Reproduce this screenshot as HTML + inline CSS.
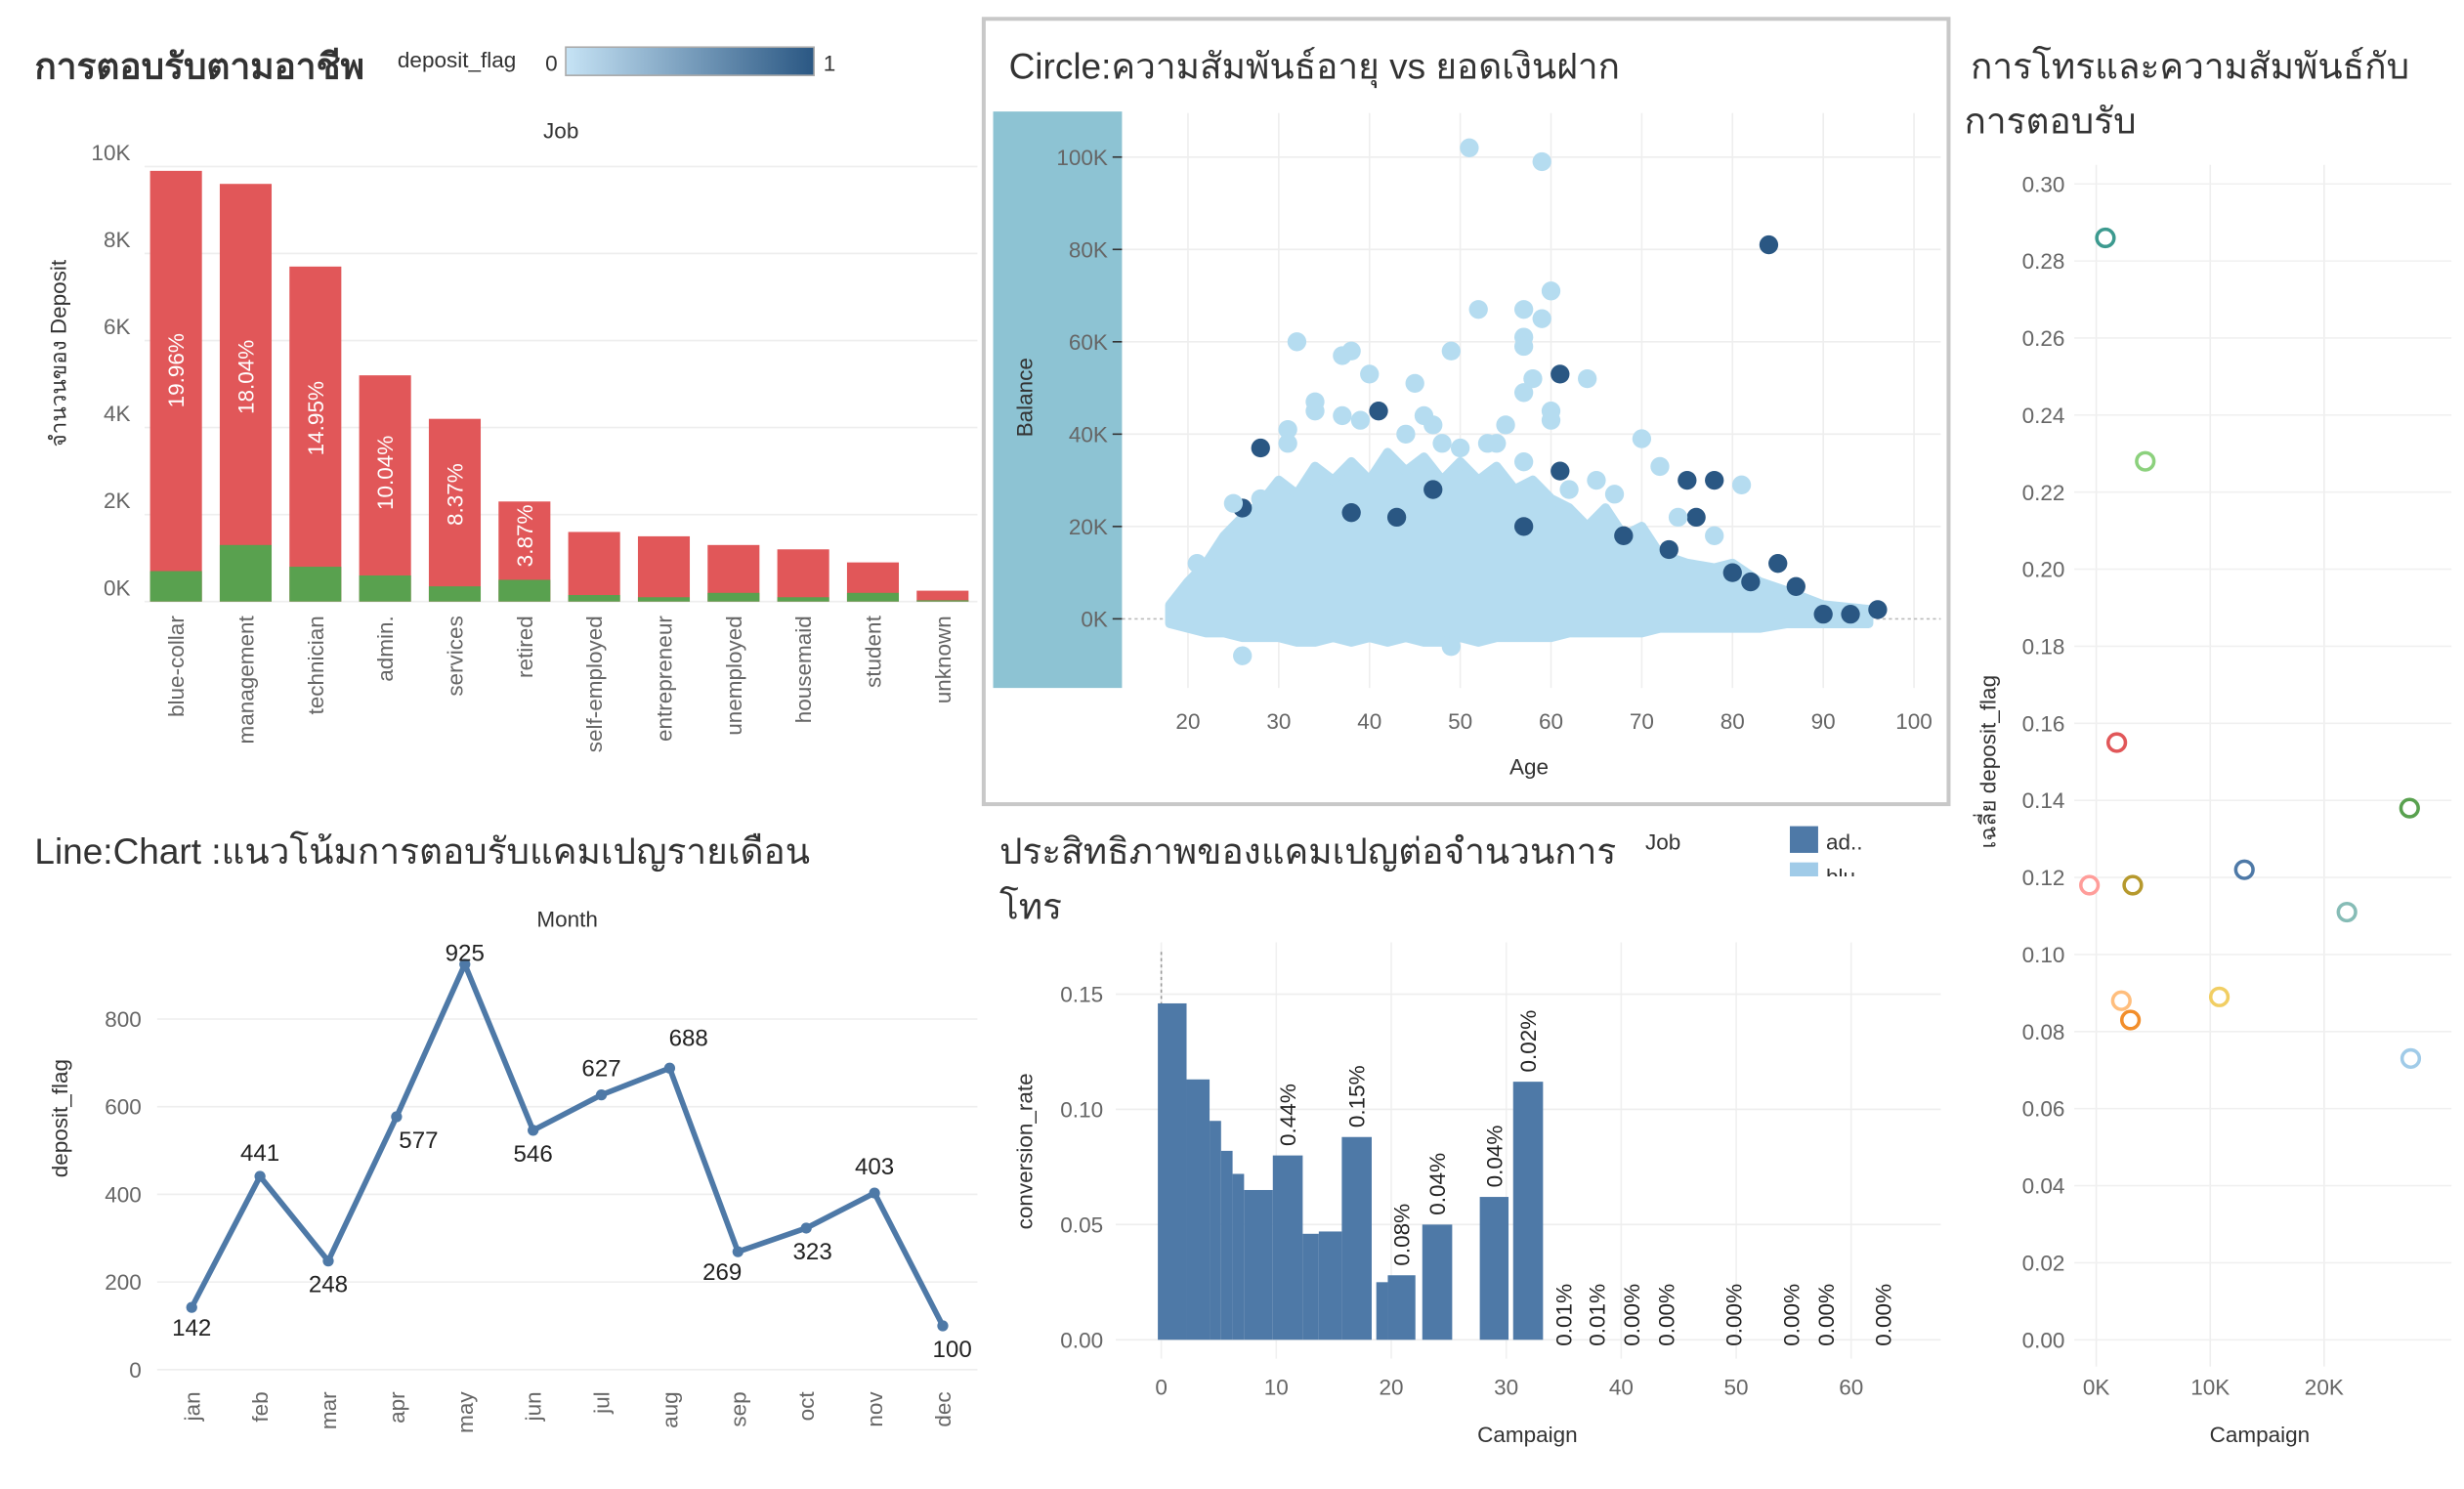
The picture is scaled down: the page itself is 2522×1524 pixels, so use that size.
<!DOCTYPE html>
<html><head><meta charset="utf-8">
<style>
html,body{margin:0;padding:0;background:#fff;}
svg{display:block;font-family:"Liberation Sans","Noto Sans CJK SC",sans-serif;}
.t{fill:#333;}
.tk{fill:#666;font-size:14px;}
</style></head>
<body>
<svg id="s" width="2522" height="1524" viewBox="0 0 1568 948" preserveAspectRatio="none">
<defs><linearGradient id="g" x1="0" x2="1"><stop offset="0" stop-color="#c6e3f5"/><stop offset="1" stop-color="#2a5783"/></linearGradient></defs>
<g>
<text x="22" y="50" font-size="23" font-weight="bold" class="t">การตอบรับตามอาชีพ</text>
<text x="253" y="43" font-size="14" class="t">deposit_flag</text>
<text x="347" y="45" font-size="14" class="t">0</text>
<rect x="360" y="30" width="158" height="18" fill="url(#g)" stroke="#aaa"/>
<text x="524" y="45" font-size="14" class="t">1</text>
<text x="357" y="88" font-size="14" text-anchor="middle" class="t">Job</text>
<text transform="translate(42,225) rotate(-90)" font-size="14" text-anchor="middle" class="t">จำนวนของ Deposit</text>
<g id="p1"></g>
</g>
<rect x="626" y="12" width="614" height="500" fill="none" stroke="#c8c8c8" stroke-width="2.5"/>
<g>
<text x="642" y="50" font-size="23" class="t">Circle:ความสัมพันธ์อายุ vs ยอดเงินฝาก</text>
<rect x="632" y="71" width="82" height="367" fill="#8dc3d3"/>
<text transform="translate(657,253) rotate(-90)" font-size="14" text-anchor="middle" class="t">Balance</text>
<text x="973" y="493" font-size="14" text-anchor="middle" class="t">Age</text>
<g id="p2"></g>
</g>
<g>
<text x="1254" y="50" font-size="23" class="t">การโทรและความสัมพันธ์กับ</text>
<text x="1250" y="85" font-size="23" class="t">การตอบรับ</text>
<text transform="translate(1270,485) rotate(-90)" font-size="14" text-anchor="middle" class="t">เฉลี่ย deposit_flag</text>
<text x="1438" y="918" font-size="14" text-anchor="middle" class="t">Campaign</text>
<g id="p3"></g>
</g>
<g>
<text x="22" y="550" font-size="23" class="t">Line:Chart :แนวโน้มการตอบรับแคมเปญรายเดือน</text>
<text x="361" y="590" font-size="14" text-anchor="middle" class="t">Month</text>
<text transform="translate(43,712) rotate(-90)" font-size="14" text-anchor="middle" class="t">deposit_flag</text>
<g id="p4"></g>
</g>
<g>
<text x="636" y="550" font-size="23" class="t">ประสิทธิภาพของแคมเปญต่อจำนวนการ</text>
<text x="636" y="585" font-size="23" class="t">โทร</text>
<text x="1047" y="541" font-size="14" class="t">Job</text>
<rect x="1139" y="526" width="18" height="17" fill="#4e79a7"/>
<text x="1162" y="541" font-size="14" class="t">ad..</text>
<svg x="1130" y="549" width="100" height="9"><rect x="9" y="0" width="18" height="17" fill="#a0cbe8"/><text x="32" y="14" font-size="14" class="t">blu..</text></svg>
<text transform="translate(657,733) rotate(-90)" font-size="14" text-anchor="middle" class="t">conversion_rate</text>
<text x="972" y="918" font-size="14" text-anchor="middle" class="t">Campaign</text>
<g id="p5"></g>
</g>
</svg>
<script>
const jobs=["blue-collar","management","technician","admin.","services","retired","self-employed","entrepreneur","unemployed","housemaid","student","unknown"];
const jobTotal=[9.9,9.6,7.7,5.2,4.2,2.3,1.6,1.5,1.3,1.2,0.9,0.25];
const jobYes=[0.7,1.3,0.8,0.6,0.35,0.5,0.15,0.1,0.2,0.1,0.2,0.03];
const jobPct=["19.96%","18.04%","14.95%","10.04%","8.37%","3.87%","","","","","",""];
const p1Ticks=[0,2,4,6,8,10];
const ageTicks=[20,30,40,50,60,70,80,90,100];
const balTicks=[0,20,40,60,80,100];
const envAge=[18,20,22,24,26,28,30,32,34,36,38,40,42,44,46,48,50,52,54,56,58,60,62,64,66,68,70,72,75,78,80,83,86,90,95];
const envTop=[3,8,12,18,22,25,30,27,33,30,34,30,36,32,35,30,34,30,33,28,30,26,24,20,24,18,20,14,12,11,12,8,6,3,2];
const envBot=[-1,-2,-3,-3,-4,-4,-4,-5,-5,-4,-5,-4,-5,-4,-5,-5,-4,-5,-4,-4,-4,-4,-3,-3,-3,-3,-3,-2,-2,-2,-2,-2,-1,-1,-1];
const lightAge=[51,59,60,52,57,59,57,32,49,38,37,57,40,58,64,57,34,34,45,37,46,47,55,60,60,31,31,39,48,50,54,57,70,72,65,81,26,49,25,28,44,53,62,67,74,78,22,21];
const lightBal=[102,99,71,67,67,65,61,60,58,58,57,59,53,52,52,49,47,45,51,44,44,42,42,45,43,41,38,43,38,37,38,34,39,33,30,29,-8,-6,25,26,40,38,28,27,22,18,10,12];
const darkAge=[84,61,41,28,61,26,75,78,76,85,87,80,82,90,93,96,43,38,47,73,68,57];
const darkBal=[81,53,45,37,32,24,30,30,22,12,7,10,8,1,1,2,22,23,28,15,18,20];
const campK=[0.8,4.3,1.8,27.5,13,-0.6,3.2,22,2.2,3,10.8,27.6];
const campAvg=[0.286,0.228,0.155,0.138,0.122,0.118,0.118,0.111,0.088,0.083,0.089,0.073];
const campColor=["#3c9a8f","#8cd17d","#e15759","#59a14f","#4e79a7","#ff9d9a","#b6992d","#86bcb6","#ffbe7d","#f28e2b","#f1ce63","#a0cbe8"];
const p3Ticks=[0,0.02,0.04,0.06,0.08,0.10,0.12,0.14,0.16,0.18,0.20,0.22,0.24,0.26,0.28,0.30];
const p3XTicks=[0,10,20];
const months=["jan","feb","mar","apr","may","jun","jul","aug","sep","oct","nov","dec"];
const monthVal=[142,441,248,577,925,546,627,688,269,323,403,100];
const p4Ticks=[0,200,400,600,800];
const binStart=[-0.3,2.2,4.2,5.2,6.2,7.2,9.7,12.3,13.7,15.7,18.7,19.7,22.7,27.7,30.6];
const binEnd=[2.2,4.2,5.2,6.2,7.2,9.7,12.3,13.7,15.7,18.3,19.7,22.1,25.3,30.2,33.2];
const binRate=[0.146,0.113,0.095,0.082,0.072,0.065,0.080,0.046,0.047,0.088,0.025,0.028,0.050,0.062,0.112];
const binLabel=["","","","","","","0.44%","","","0.15%","","0.08%","0.04%","0.04%","0.02%"];
const tailCamp=[35,37.9,40.9,43.9,49.8,54.8,57.8,62.8];
const tailLabel=["0.01%","0.01%","0.00%","0.00%","0.00%","0.00%","0.00%","0.00%"];
const p5Ticks=[0,0.05,0.10,0.15];
const p5XTicks=[0,10,20,30,40,50,60];

const NS="http://www.w3.org/2000/svg";
function mk(parent,tag,attrs,txt){const e=document.createElementNS(NS,tag);for(const k in attrs)e.setAttribute(k,attrs[k]);if(txt!==undefined)e.textContent=txt;parent.appendChild(e);return e;}

(function(){const g=document.getElementById('p1');
const y=v=>383-v*27.7, x=i=>112+i*44.35;
p1Ticks.forEach(t=>{let l=mk(g,'line',{x1:92,x2:622,y1:y(t),y2:y(t),stroke:'#eee'});

let tx=mk(g,'text',{x:83,y:y(t)-4,'text-anchor':'end',class:'tk'},t+'K');
});
jobs.forEach((j,i)=>{let r=mk(g,'rect',{x:x(i)-16.5,y:y(jobTotal[i]),width:33,height:y(0)-y(jobTotal[i]),fill:'#e15759'});

let r2=mk(g,'rect',{x:x(i)-16.5,y:y(jobYes[i]),width:33,height:y(0)-y(jobYes[i]),fill:'#59a14f'});

if(jobPct[i]){let my=(y(jobTotal[i])+y(0))/2-10;
let p=mk(g,'text',{transform:`translate(${x(i)+5},${my}) rotate(-90)`,'text-anchor':'middle','font-size':14,fill:'#fff'},jobPct[i]);
}
let l=mk(g,'text',{transform:`translate(${x(i)+5},392) rotate(-90)`,'text-anchor':'end',class:'tk'},j);
});
})();

(function(){const g=document.getElementById('p2');
const x=a=>756+(a-20)*5.775, y=b=>394-b*2.94;
ageTicks.forEach(t=>{let l=mk(g,'line',{x1:x(t),x2:x(t),y1:72,y2:438,stroke:'#eee'});

let tx=mk(g,'text',{x:x(t),y:464,'text-anchor':'middle',class:'tk'},t);
});
balTicks.forEach(t=>{let l=mk(g,'line',{x1:714,x2:1235,y1:y(t),y2:y(t),stroke:t?'#eee':'#bbb','stroke-dasharray':t?'':'2,2'});

mk(g,'line',{x1:708,x2:714,y1:y(t),y2:y(t),stroke:'#333'});
let tx=mk(g,'text',{x:705,y:y(t)+5,'text-anchor':'end',class:'tk',fill:'#333'},t+'K');
});
let pts=envAge.map((a,i)=>x(a)+','+y(envTop[i])).concat(envAge.slice().reverse().map((a,i)=>x(a)+','+y(envBot[envAge.length-1-i])));
let pg=mk(g,'polygon',{points:pts.join(' '),fill:'#b5dcf0',stroke:'#b5dcf0','stroke-width':6,'stroke-linejoin':'round'});

darkAge.forEach((a,i)=>{let c=mk(g,'circle',{cx:x(a),cy:y(darkBal[i]),r:6,fill:'#2a5783'});
});
lightAge.forEach((a,i)=>{let c=mk(g,'circle',{cx:x(a),cy:y(lightBal[i]),r:6,fill:'#b5dcf0'});
});
})();

(function(){const g=document.getElementById('p3');
const x=k=>1334+k*7.25, y=v=>853-v*2453;
p3XTicks.forEach(t=>{let l=mk(g,'line',{x1:x(t*1),x2:x(t*1),y1:105,y2:870,stroke:'#eee'});

let tx=mk(g,'text',{x:x(t),y:888,'text-anchor':'middle',class:'tk'},t+'K');
});
p3Ticks.forEach(t=>{let l=mk(g,'line',{x1:1320,x2:1560,y1:y(t),y2:y(t),stroke:'#f0f0f0'});

let tx=mk(g,'text',{x:1314,y:y(t)+5,'text-anchor':'end',class:'tk'},t.toFixed(2));
});
campK.forEach((k,i)=>{let c=mk(g,'circle',{cx:x(k),cy:y(campAvg[i]),r:5.5,fill:'#fff',stroke:campColor[i],'stroke-width':2.2});
});
})();

(function(){const g=document.getElementById('p4');
const x=i=>122+i*43.45, y=v=>872-v*0.279;
p4Ticks.forEach(t=>{let l=mk(g,'line',{x1:100,x2:622,y1:y(t),y2:y(t),stroke:'#eee'});

let tx=mk(g,'text',{x:90,y:y(t)+5,'text-anchor':'end',class:'tk'},t);
});
let pl=mk(g,'polyline',{points:monthVal.map((v,i)=>x(i)+','+y(v)).join(' '),fill:'none',stroke:'#4e79a7','stroke-width':3.5,'stroke-linejoin':'round'});

const off=[[0,18],[0,-10],[0,20],[14,20],[0,-2],[0,20],[0,-12],[12,-14],[-10,18],[4,20],[0,-12],[6,20]];
months.forEach((m,i)=>{let c=mk(g,'circle',{cx:x(i),cy:y(monthVal[i]),r:3.5,fill:'#4e79a7'});

let lb=mk(g,'text',{x:x(i)+off[i][0],y:y(monthVal[i])+off[i][1],'text-anchor':'middle','font-size':15,fill:'#222'},monthVal[i]);

let tx=mk(g,'text',{transform:`translate(${x(i)+5},886) rotate(-90)`,'text-anchor':'end',class:'tk'},m);
});
})();

(function(){const g=document.getElementById('p5');
const x=c=>739+c*7.317, y=v=>853-v*1467;
p5XTicks.forEach(t=>{let l=mk(g,'line',{x1:x(t),x2:x(t),y1:600,y2:865,stroke:'#f0f0f0'});

let tx=mk(g,'text',{x:x(t),y:888,'text-anchor':'middle',class:'tk'},t);
});
p5Ticks.forEach(t=>{let l=mk(g,'line',{x1:710,x2:1235,y1:y(t),y2:y(t),stroke:'#eee'});

let tx=mk(g,'text',{x:702,y:y(t)+5,'text-anchor':'end',class:'tk'},t.toFixed(2));
});
mk(g,'line',{x1:x(0),x2:x(0),y1:606,y2:640,stroke:'#999','stroke-dasharray':'2,2'});
binStart.forEach((s,i)=>{let r=mk(g,'rect',{x:x(s),y:y(binRate[i]),width:x(binEnd[i])-x(s),height:y(0)-y(binRate[i]),fill:'#4e79a7'});

if(binLabel[i]){let t=mk(g,'text',{transform:`translate(${(x(s)+x(binEnd[i]))/2+5},${y(binRate[i])-6}) rotate(-90)`,'font-size':14,fill:'#222'},binLabel[i]);
}});
tailCamp.forEach((c,i)=>{let t=mk(g,'text',{transform:`translate(${x(c)+5},857) rotate(-90)`,'font-size':14,fill:'#222'},tailLabel[i]);
});
})();
</script>
</body></html>
